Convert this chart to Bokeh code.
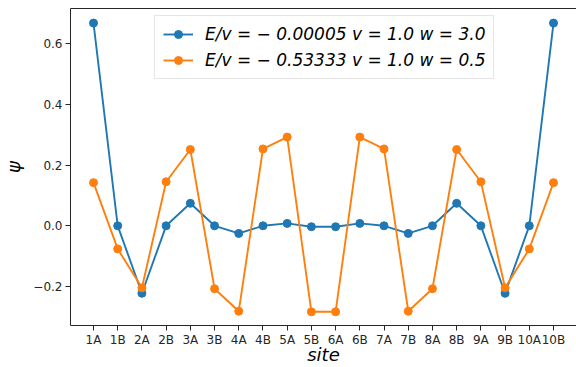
from bokeh.plotting import figure
from bokeh.models import FixedTicker, LinearAxis, Range1d, Legend, LegendItem, ColumnDataSource
from bokeh.embed import file_html
from bokeh.resources import INLINE

sites = ["1A", "1B", "2A", "2B", "3A", "3B", "4A", "4B", "5A", "5B",
         "6A", "6B", "7A", "7B", "8A", "8B", "9A", "9B", "10A", "10B"]
psi_w3 = [0.667, 0.0, -0.222, 0.0, 0.074, 0.0, -0.025, 0.0, 0.008, -0.003,
          -0.003, 0.008, 0.0, -0.025, 0.0, 0.074, 0.0, -0.222, 0.0, 0.667]
psi_w05 = [0.142, -0.076, -0.204, 0.145, 0.251, -0.207, -0.281, 0.253, 0.292, -0.283,
           -0.283, 0.292, 0.253, -0.281, -0.207, 0.251, 0.145, -0.204, -0.076, 0.142]
label_w3 = "E/v = − 0.00005 v = 1.0 w = 3.0"
label_w05 = "E/v = − 0.53333 v = 1.0 w = 0.5"
y_ticks = [-0.2, 0.0, 0.2, 0.4, 0.6]
x_title = "site"
y_title = "ψ"

xs = list(range(len(sites)))
FONT = "DejaVu Sans"

p = figure(width=576, height=367, output_backend="svg", toolbar_location=None,
           x_range=Range1d(-0.95, 19.95), y_range=Range1d(-0.328, 0.715),
           min_border_left=0, min_border_right=0, min_border_top=8, min_border_bottom=42)
p.background_fill_color = "white"
p.border_fill_color = "white"
p.outline_line_color = None
p.xgrid.visible = False
p.ygrid.visible = False

c1, c2 = "#1f77b4", "#ff7f0e"
s1 = ColumnDataSource(dict(x=xs, y=psi_w3))
s2 = ColumnDataSource(dict(x=xs, y=psi_w05))
l1 = p.line("x", "y", source=s1, color=c1, line_width=1.9)
m1 = p.scatter("x", "y", source=s1, color=c1, size=8)
l2 = p.line("x", "y", source=s2, color=c2, line_width=1.9)
m2 = p.scatter("x", "y", source=s2, color=c2, size=8)

for ax in (p.xaxis[0], p.yaxis[0]):
    ax.major_label_text_font = FONT
    ax.major_label_text_font_size = "12px"
    ax.major_label_text_color = "#262626"
    ax.axis_label_text_font = FONT
    ax.axis_label_text_font_size = "18px"
    ax.axis_label_text_font_style = "italic"
    ax.axis_label_text_color = "black"
    ax.axis_line_color = "#262626"
    ax.major_tick_line_color = "#262626"
    ax.major_tick_out = 5
    ax.major_tick_in = 0
    ax.minor_tick_line_color = None

p.xaxis.ticker = FixedTicker(ticks=xs)
p.xaxis.major_label_overrides = {i: s for i, s in enumerate(sites)}
p.xaxis.major_label_standoff = 2
p.xaxis.axis_label = x_title
p.xaxis.axis_label_standoff = -6

p.yaxis.ticker = FixedTicker(ticks=y_ticks)
p.yaxis.major_label_overrides = {t: ("\u2212" + f"{abs(t):.1f}" if t < 0 else f"{t:.1f}") for t in y_ticks}
p.yaxis.axis_label = y_title
p.yaxis.axis_label_standoff = 6
p.yaxis.major_label_standoff = 3

top = LinearAxis(ticker=FixedTicker(ticks=[]), major_label_text_font_size="0px",
                 axis_line_color="#262626", major_tick_line_color=None, minor_tick_line_color=None)
p.add_layout(top, "above")

legend = Legend(items=[LegendItem(label=label_w3, renderers=[l1, m1]),
                       LegendItem(label=label_w05, renderers=[l2, m2])],
                location=(84, 246))
legend.label_text_font = FONT
legend.label_text_font_size = "17px"
legend.label_text_font_style = "italic"
legend.label_text_color = "black"
legend.border_line_color = "#cccccc"
legend.background_fill_alpha = 0.8
legend.glyph_width = 30
legend.label_standoff = 12
legend.spacing = 6
legend.padding = 8
legend.margin = 0
p.add_layout(legend, "center")

open("out.html", "w").write(file_html(p, INLINE))
